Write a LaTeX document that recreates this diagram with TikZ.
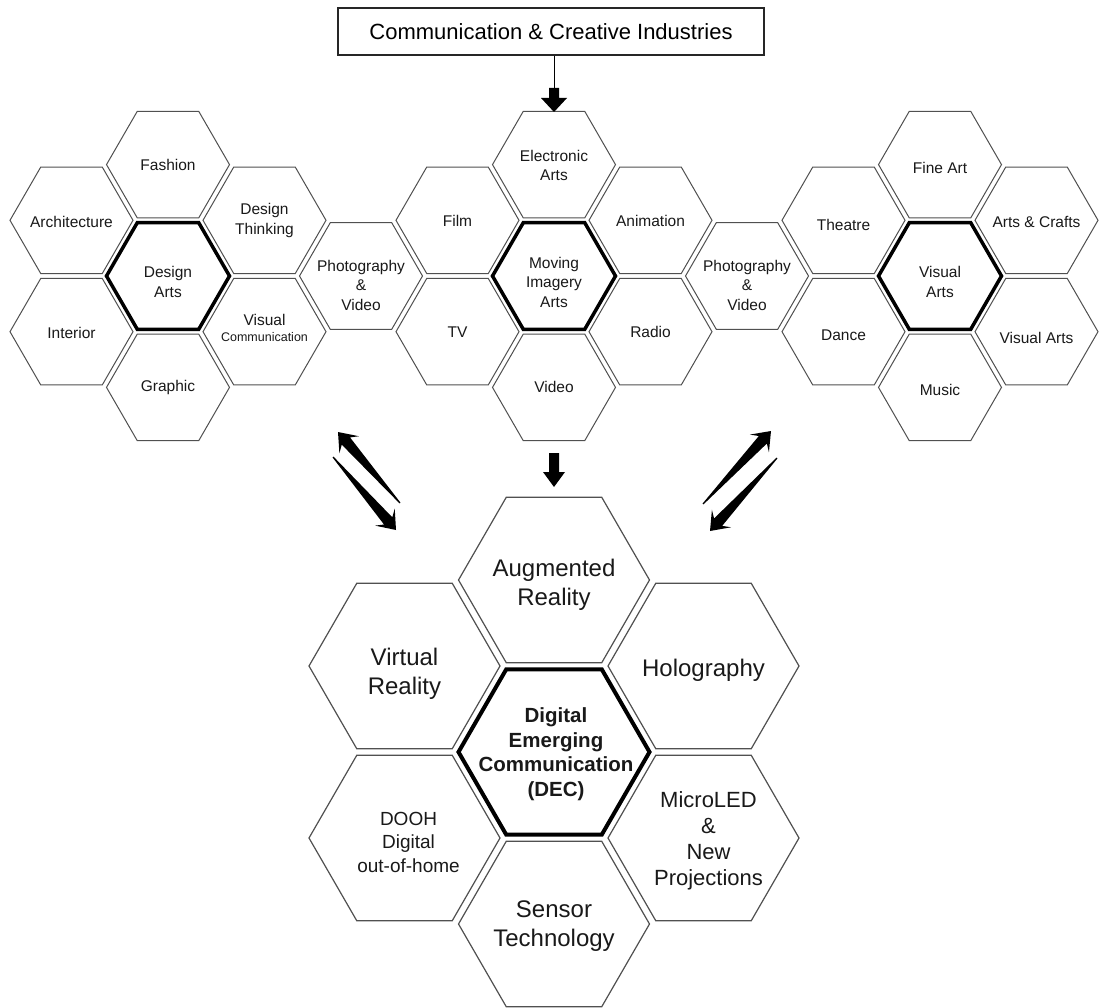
\documentclass[tikz,border=0pt]{standalone}
\usepackage{fontspec}
\setmainfont{Liberation Sans}
\usetikzlibrary{shapes.geometric,calc}
\definecolor{hexgray}{RGB}{80,80,80}
\newcommand\hexnode[7]{% style, name, x, y, dx, dy, text
  \node[#1] (#2) at (#3,#4) {};
  \node[lbl] (#2-t) at ($(#2)+(#5,#6)$) {#7};}
\newcommand\bhexnode[8]{% style, name, x, y, dx, dy, font, text
  \node[#1] (#2) at (#3,#4) {};
  \node[lbl,font=#7] (#2-t) at ($(#2)+(#5,#6)$) {#8};}
\newcommand\taperarrow[2]{% tail, tip
  \coordinate (#2-b) at ($(#2)!17pt!(#1)$);
  \coordinate (#2-c) at ($(#2)!12pt!(#1)$);
  \fill[black] ($(#1)!0.6pt!90:(#2)$) -- ($(#2-c)!5.5pt!90:(#2)$) -- ($(#2-b)!13pt!90:(#2)$) -- (#2)
     -- ($(#2-b)!13pt!-90:(#2)$) -- ($(#2-c)!5.5pt!-90:(#2)$) -- ($(#1)!0.6pt!-90:(#2)$) -- cycle;}
\begin{document}
\begin{tikzpicture}[x=1pt,y=-1pt,
  hexs/.style={draw=hexgray, line width=1pt, regular polygon, regular polygon sides=6, minimum size=123pt, inner sep=0pt, outer sep=0pt},
  hexthick/.style={hexs, draw=black, line width=3.5pt},
  bighex/.style={draw=hexgray, line width=1.2pt, regular polygon, regular polygon sides=6, minimum size=191pt, inner sep=0pt, outer sep=0pt},
  bigthick/.style={bighex, draw=black, line width=4pt},
  lbl/.style={align=center, inner sep=0pt, text=black!90, font=\fontsize{15.5}{19.5}\selectfont}]
\fill[white] (0,0) rectangle (1100,1008);
\useasboundingbox (0,0) rectangle (1100,1008);

% top box
\node[draw=black!85, line width=1.3pt, minimum width=426pt, minimum height=47pt, inner sep=0pt,
      font=\fontsize{22}{26}\selectfont] (cci) at (551,31.5) {Communication \& Creative Industries};

% ---- Design Arts cluster
\hexnode{hexs}{arch}{71.5}{220.3}{0}{2}{Architecture}
\hexnode{hexs}{inter}{71.5}{331.7}{0}{1}{Interior}
\hexnode{hexs}{fash}{168}{164.6}{0}{0}{Fashion}
\hexnode{hexthick}{desarts}{168}{276}{0}{6}{Design\\Arts}
\hexnode{hexs}{graph}{168}{387.4}{0}{0}{Graphic}
\hexnode{hexs}{desthink}{264.5}{220.3}{0}{0}{Design\\Thinking}
\hexnode{hexs}{viscom}{264.5}{331.7}{0}{-4}{Visual\\[-3pt]{\fontsize{12.5}{15}\selectfont Communication}}
\hexnode{hexs}{photoL}{361}{276}{0}{9}{Photography\\\&\\Video}
% ---- Moving Imagery cluster
\hexnode{hexs}{film}{457.5}{220.3}{0}{1}{Film}
\hexnode{hexs}{tv}{457.5}{331.7}{0}{0}{TV}
\hexnode{hexs}{elec}{554}{164.6}{0}{1}{Electronic\\Arts}
\hexnode{hexthick}{moving}{554}{276}{0}{6}{Moving\\Imagery\\Arts}
\hexnode{hexs}{video}{554}{387.4}{0}{0}{Video}
\hexnode{hexs}{anim}{650.5}{220.3}{0}{1}{Animation}
\hexnode{hexs}{radio}{650.5}{331.7}{0}{0}{Radio}
\hexnode{hexs}{photoR}{747}{276}{0}{9}{Photography\\\&\\Video}
% ---- Visual Arts cluster
\hexnode{hexs}{theatre}{843.5}{220.3}{0}{5}{Theatre}
\hexnode{hexs}{dance}{843.5}{331.7}{0}{4}{Dance}
\hexnode{hexs}{fineart}{940}{164.6}{0}{3}{Fine Art}
\hexnode{hexthick}{visarts}{940}{276}{0}{6}{Visual\\Arts}
\hexnode{hexs}{music}{940}{387.4}{0}{3}{Music}
\hexnode{hexs}{crafts}{1036.5}{220.3}{0}{2}{Arts \& Crafts}
\hexnode{hexs}{visarts2}{1036.5}{331.7}{0}{6}{Visual Arts}

% ---- DEC cluster
\bhexnode{bighex}{aug}{554}{580}{0}{5}{\fontsize{24}{29}\selectfont}{Augmented\\Reality}
\bhexnode{bighex}{vr}{404.5}{666}{0}{8}{\fontsize{24}{29}\selectfont}{Virtual\\Reality}
\bhexnode{bighex}{holo}{703.5}{666}{0}{4}{\fontsize{24}{29}\selectfont}{Holography}
\bhexnode{bigthick}{dec}{554}{752}{2}{2}{\fontsize{20.5}{24.5}\selectfont\bfseries}{Digital\\Emerging\\Communication\\(DEC)}
\bhexnode{bighex}{dooh}{404.5}{838}{4}{4}{\fontsize{19}{23.5}\selectfont}{DOOH\\Digital\\out-of-home}
\bhexnode{bighex}{micro}{703.5}{838}{5}{3}{\fontsize{22}{26}\selectfont}{MicroLED\\\&\\New\\Projections}
\bhexnode{bighex}{sensor}{554}{924}{0}{2}{\fontsize{24}{29}\selectfont}{Sensor\\Technology}

% ---- top arrow: box -> Electronic Arts
\coordinate (tipA) at (554,112);
\draw[line width=1pt, black] (cci.south -| tipA) -- ($(tipA)+(0,-24)$);
\fill[black] ($(tipA)+(-5,-24)$) -- ($(tipA)+(5,-24)$) -- ($(tipA)+(5,-14)$) -- ($(tipA)+(13,-14)$)
  -- (tipA) -- ($(tipA)+(-13,-14)$) -- ($(tipA)+(-5,-14)$) -- cycle;

% ---- middle arrow: Moving Imagery -> DEC cluster
\coordinate (tipB) at (554,487);
\fill[black] ($(tipB)+(-5,-34)$) -- ($(tipB)+(5,-34)$) -- ($(tipB)+(5,-15)$) -- ($(tipB)+(11,-15)$)
  -- (tipB) -- ($(tipB)+(-11,-15)$) -- ($(tipB)+(-5,-15)$) -- cycle;

% ---- diagonal tapered arrows
\coordinate (lu-tail) at (400,503); \coordinate (lu-tip) at (338,432);
\coordinate (ld-tail) at (333,457); \coordinate (ld-tip) at (396,530);
\coordinate (ru-tail) at (703,504); \coordinate (ru-tip) at (771,431);
\coordinate (rd-tail) at (777,458); \coordinate (rd-tip) at (710,531);
\taperarrow{lu-tail}{lu-tip}
\taperarrow{ld-tail}{ld-tip}
\taperarrow{ru-tail}{ru-tip}
\taperarrow{rd-tail}{rd-tip}
\end{tikzpicture}
\end{document}
